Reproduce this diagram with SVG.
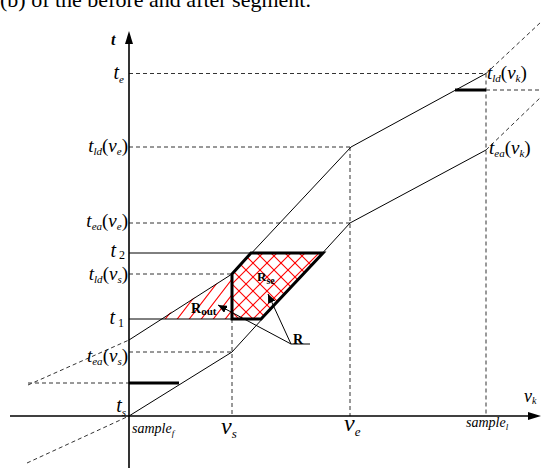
<svg xmlns="http://www.w3.org/2000/svg" width="541" height="468" viewBox="0 0 541 468">
<defs>
<style>
.ax{stroke:#000;stroke-width:1.6;fill:none}
.ln{stroke:#000;stroke-width:1;fill:none}
.dash{stroke:#333;stroke-width:1;stroke-dasharray:4 3;fill:none}
.thick{stroke:#000;stroke-width:3;fill:none;stroke-linejoin:miter}
.hatch{stroke:#f00;stroke-width:1.1;fill:none}
.lbl{font-family:"Liberation Serif","DejaVu Serif",serif;font-style:italic;fill:#000}
.hdr{font-family:"Liberation Serif","DejaVu Serif",serif;font-style:normal;fill:#000}
.up{font-style:normal}
.rb{font-family:"Liberation Serif","DejaVu Serif",serif;font-weight:bold;fill:#000}
</style>
<clipPath id="cOut"><polygon points="160,319 232,274 232,319"/></clipPath>
<clipPath id="cSe"><polygon points="232,274 251,253 323,253 261,319 232,319"/></clipPath>
<marker id="ah" markerUnits="userSpaceOnUse" markerWidth="10" markerHeight="8" refX="9" refY="4" orient="auto">
<path d="M0,0L9,4L0,8z" fill="#000"/>
</marker>
</defs>
<rect width="541" height="468" fill="#fff"/>
<text class="hdr" x="0" y="7" font-size="22">(b) of the before and after segment.</text>

<g id="regions">
<g id="R_out" clip-path="url(#cOut)">
<path class="hatch" d="M163,322l50,-65M175,322l50,-65M187,322l50,-65M199,322l50,-65M211,322l50,-65M223,322l50,-65M235,322l50,-65"/>
</g>
<g id="R_se" clip-path="url(#cSe)">
<path class="hatch" d="M158,330l100,-100M172,330l100,-100M186,330l100,-100M200,330l100,-100M214,330l100,-100M228,330l100,-100M242,330l100,-100M256,330l100,-100M270,330l100,-100M284,330l100,-100M298,330l100,-100"/>
<path class="hatch" d="M122,230l100,100M136,230l100,100M150,230l100,100M164,230l100,100M178,230l100,100M192,230l100,100M206,230l100,100M220,230l100,100M234,230l100,100M248,230l100,100M262,230l100,100M276,230l100,100"/>
</g>
</g>

<g id="guides">
<path class="dash" d="M129,73.5H486M129,147H351M129,223H350M129,274H232M129,352H232M28,383H129M486,90H541"/>
<path class="dash" d="M232,319V416M350,147V416M486,73.5V416"/>
<path class="ln" d="M129,253H251M129,319H232"/>
</g>

<g id="connectors">
<path id="ld-curve" class="ln" d="M129,340L232,274L351,147L486,73.5"/>
<path class="dash" d="M28,385L129,340M486,73.5L541,22"/>
<path id="ea-curve" class="ln" d="M129,416L232,352L350,223L486,150"/>
<path class="dash" d="M27,463L129,416M486,150L541,97"/>
<path class="thick" d="M129,383H179M455,90H486"/>
<polygon class="thick" points="232,274 251,253 323,253 261,319 232,319"/>
<path class="ln" d="M291,344L268,294" marker-end="url(#ah)"/>
<path class="ln" d="M291,344L218,305" marker-end="url(#ah)"/>
<path class="ln" d="M291,344H310"/>
</g>

<g id="axes">
<path class="ax" d="M129,468V42"/>
<polygon points="129,31 125,44 133,44" fill="#000"/>
<path class="ax" d="M10,416H530"/>
<polygon points="541,416 528,412 528,420" fill="#000"/>
</g>

<g id="labels">
<text class="lbl" x="111" y="45" font-size="16" font-weight="bold">t</text>
<text class="lbl" x="124" y="79" font-size="20" text-anchor="end">t<tspan font-size="11" dy="4">e</tspan></text>
<text class="lbl" x="128" y="152" font-size="19" text-anchor="end">t<tspan font-size="11" dy="3">ld</tspan><tspan class="up" dy="-3">(</tspan>v<tspan font-size="11" dy="3">e</tspan><tspan class="up" dy="-3">)</tspan></text>
<text class="lbl" x="128" y="227" font-size="19" text-anchor="end">t<tspan font-size="11" dy="3">ea</tspan><tspan class="up" dy="-3">(</tspan>v<tspan font-size="11" dy="3">e</tspan><tspan class="up" dy="-3">)</tspan></text>
<text class="lbl" x="125" y="257" font-size="20" text-anchor="end">t<tspan class="up" font-size="12" dx="3" dy="2">2</tspan></text>
<text class="lbl" x="128" y="280" font-size="19" text-anchor="end">t<tspan font-size="11" dy="3">ld</tspan><tspan class="up" dy="-3">(</tspan>v<tspan font-size="11" dy="3">s</tspan><tspan class="up" dy="-3">)</tspan></text>
<text class="lbl" x="124" y="324" font-size="20" text-anchor="end">t<tspan class="up" font-size="12" dx="3" dy="3">1</tspan></text>
<text class="lbl" x="128" y="362" font-size="19" text-anchor="end">t<tspan font-size="11" dy="3">ea</tspan><tspan class="up" dy="-3">(</tspan>v<tspan font-size="11" dy="3">s</tspan><tspan class="up" dy="-3">)</tspan></text>
<text class="lbl" x="126" y="412" font-size="20" text-anchor="end">t<tspan font-size="11" dy="4">s</tspan></text>
<text class="lbl" x="487" y="79" font-size="19">t<tspan font-size="11" dy="3">ld</tspan><tspan class="up" dy="-3">(</tspan>v<tspan font-size="11" dy="3">k</tspan><tspan class="up" dy="-3">)</tspan></text>
<text class="lbl" x="489" y="154" font-size="19">t<tspan font-size="11" dy="3">ea</tspan><tspan class="up" dy="-3">(</tspan>v<tspan font-size="11" dy="3">k</tspan><tspan class="up" dy="-3">)</tspan></text>
<text class="lbl" x="132" y="433" font-size="14">sample<tspan font-size="9" dy="3">f</tspan></text>
<text class="lbl" x="221" y="434" font-size="24">v<tspan font-size="13" dy="4">s</tspan></text>
<text class="lbl" x="344" y="431" font-size="24">v<tspan font-size="13" dy="5">e</tspan></text>
<text class="lbl" x="466" y="427" font-size="14">sample<tspan font-size="9" dy="3">l</tspan></text>
<text class="lbl" x="524" y="402" font-size="18">v<tspan font-size="10" dy="2">k</tspan></text>
<text class="rb" x="257" y="281" font-size="13">R<tspan font-size="10" dy="3">se</tspan></text>
<text class="rb" x="191" y="313" font-size="14">R<tspan font-size="11" dy="2">out</tspan></text>
<text class="rb" x="293" y="344" font-size="14">R</text>
</g>
</svg>
